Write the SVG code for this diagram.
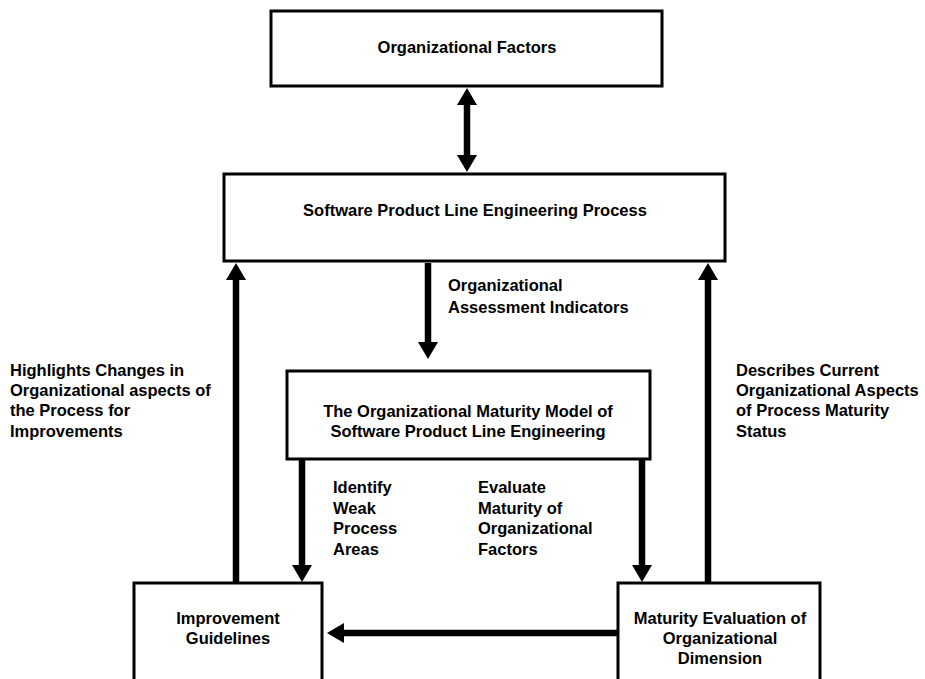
<svg xmlns="http://www.w3.org/2000/svg" width="925" height="679" viewBox="0 0 925 679">
<style>
.box{fill:#fff;stroke:#000;stroke-width:3}
.t{font-family:"Liberation Sans",Arial,sans-serif;font-size:16.5px;font-weight:bold;fill:#000}
.c{text-anchor:middle}
.ln{stroke:#000;stroke-width:6.5;fill:none}
</style>
<defs>
<marker id="ah" markerUnits="userSpaceOnUse" markerWidth="17" markerHeight="20" viewBox="0 0 17 20" refX="3" refY="10" orient="auto-start-reverse">
<path d="M0,0 L17,10 L0,20 Z" fill="#000"/>
</marker>
</defs>
<rect width="925" height="679" fill="#fff"/>
<g id="connectors">
<line class="ln" x1="467" y1="102" x2="467" y2="158" marker-start="url(#ah)" marker-end="url(#ah)"/>
<line class="ln" x1="428" y1="263" x2="428" y2="345" marker-end="url(#ah)"/>
<line class="ln" x1="236" y1="583" x2="236" y2="277" marker-end="url(#ah)"/>
<line class="ln" x1="708" y1="583" x2="708" y2="277" marker-end="url(#ah)"/>
<line class="ln" x1="302" y1="459" x2="302" y2="568" marker-end="url(#ah)"/>
<line class="ln" x1="642" y1="459" x2="642" y2="568" marker-end="url(#ah)"/>
<line class="ln" x1="617" y1="633" x2="341" y2="633" marker-end="url(#ah)"/>
</g>
<g id="organizational-factors">
<rect class="box" x="271" y="11" width="391" height="75"/>
<text class="t c" x="467" y="53">Organizational Factors</text>
</g>
<g id="spl-process">
<rect class="box" x="224" y="174" width="501" height="87"/>
<text class="t c" x="475" y="216">Software Product Line Engineering Process</text>
</g>
<g id="maturity-model">
<rect class="box" x="287" y="371" width="363" height="88"/>
<text class="t c" x="468" y="417">The Organizational Maturity Model of</text>
<text class="t c" x="468" y="437">Software Product Line Engineering</text>
</g>
<g id="improvement-guidelines">
<rect class="box" x="134" y="583" width="188" height="120"/>
<text class="t c" x="228" y="624">Improvement</text>
<text class="t c" x="228" y="644">Guidelines</text>
</g>
<g id="maturity-evaluation">
<rect class="box" x="618" y="583" width="202" height="120"/>
<text class="t c" x="720" y="624">Maturity Evaluation of</text>
<text class="t c" x="720" y="644">Organizational</text>
<text class="t c" x="720" y="664">Dimension</text>
</g>
<g id="labels">
<text class="t" x="448" y="291">Organizational</text>
<text class="t" x="448" y="313">Assessment Indicators</text>
<text class="t" x="10" y="376">Highlights Changes in</text>
<text class="t" x="10" y="396">Organizational aspects of</text>
<text class="t" x="10" y="416">the Process for</text>
<text class="t" x="10" y="437">Improvements</text>
<text class="t" x="736" y="376">Describes Current</text>
<text class="t" x="736" y="396">Organizational Aspects</text>
<text class="t" x="736" y="416">of Process Maturity</text>
<text class="t" x="736" y="437">Status</text>
<text class="t" x="333" y="493">Identify</text>
<text class="t" x="333" y="514">Weak</text>
<text class="t" x="333" y="534">Process</text>
<text class="t" x="333" y="555">Areas</text>
<text class="t" x="478" y="493">Evaluate</text>
<text class="t" x="478" y="514">Maturity of</text>
<text class="t" x="478" y="534">Organizational</text>
<text class="t" x="478" y="555">Factors</text>
</g>
</svg>
